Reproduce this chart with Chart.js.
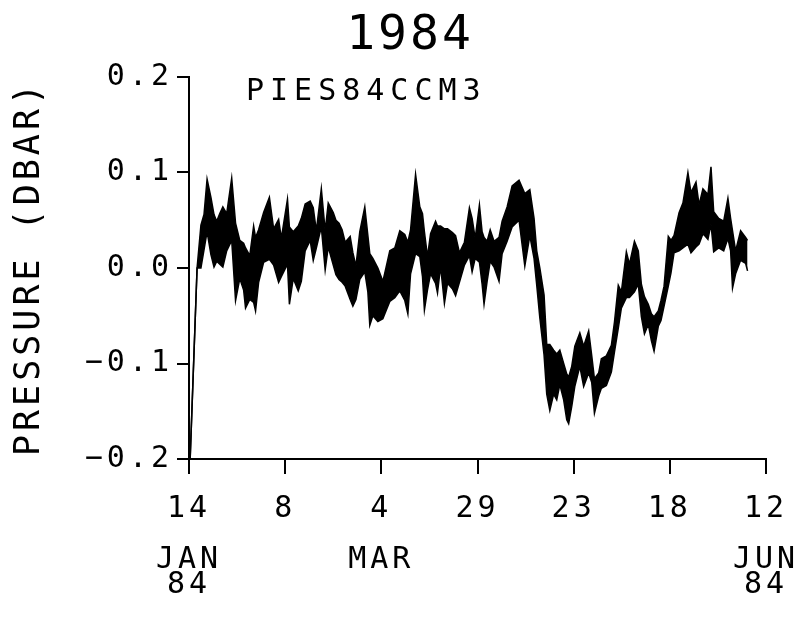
<!DOCTYPE html>
<html lang="en">
<head>
<meta charset="UTF-8">
<title>PIES84CCM3 - 1984</title>
<style>
  html, body { margin: 0; padding: 0; background: #fff; }
  #wrap { width: 801px; height: 626px; }
</style>
<script src="https://cdn.jsdelivr.net/npm/chart.js"></script>
</head>
<body>
<div id="wrap"><canvas id="pressureChart" width="801" height="626"></canvas></div>
<script>
// days after 14 Jan 1984, with the upper and lower edge of the pressure trace (dbar)
const days = [
  0.3, 2.1, 3.1, 3.9, 4.7, 5.7, 6.5, 7.2, 8.0, 8.8,
  9.8, 11.1, 12.1, 13.2, 14.2, 14.7, 15.8, 16.8, 17.3, 18.1,
  19.4, 20.9, 22.0, 23.3, 24.0, 25.6, 26.1, 27.1, 28.4, 29.2,
  30.2, 31.5, 32.3, 33.1, 34.4, 35.4, 36.2, 37.5, 38.2, 39.0,
  39.8, 40.6, 41.9, 42.6, 43.4, 44.4, 45.7, 46.5, 47.0, 47.8,
  49.1, 50.4, 51.2, 52.2, 53.5, 54.8, 56.1, 56.9, 57.6, 58.9,
  60.0, 60.7, 61.2, 62.0, 62.8, 64.1, 64.6, 65.4, 66.4, 67.2,
  68.5, 69.3, 70.3, 71.6, 72.9, 73.6, 74.4, 75.5, 76.2, 76.7,
  77.5, 78.3, 79.3, 80.6, 81.4, 82.7, 84.0, 85.8, 87.3, 88.6,
  89.7, 90.4, 91.2, 92.3, 93.0, 93.8, 94.8, 95.6, 96.4, 97.4,
  98.2, 98.7, 99.5, 100.3, 101.6, 102.6, 103.9, 104.7, 105.4, 106.5,
  107.2, 108.5, 109.8, 110.6, 111.6, 112.4, 113.7, 114.5, 115.8, 116.8,
  117.6, 118.4, 119.4, 120.2, 120.9, 122.0, 122.7, 123.5, 124.6, 125.3,
  126.1, 127.4, 128.4, 129.7, 130.5, 131.8, 132.6, 133.6, 134.9, 135.7,
  136.4, 137.7, 139.0, 140.1, 140.8, 141.3, 142.1, 143.4, 144.7, 145.2
];
const pressHigh = [
  -0.200, 0.000, 0.045, 0.056, 0.093, 0.074, 0.056, 0.049, 0.057, 0.064,
  0.057, 0.094, 0.047, 0.029, 0.026, 0.021, 0.013, 0.044, 0.032, 0.040,
  0.058, 0.074, 0.041, 0.051, 0.031, 0.072, 0.043, 0.038, 0.044, 0.052,
  0.067, 0.070, 0.063, 0.039, 0.083, 0.039, 0.068, 0.058, 0.050, 0.047,
  0.040, 0.027, 0.033, 0.016, 0.002, 0.038, 0.064, 0.034, 0.015, 0.010,
  0.000, -0.014, 0.000, 0.018, 0.021, 0.039, 0.035, 0.027, 0.040, 0.098,
  0.064, 0.057, 0.038, 0.012, 0.036, 0.049, 0.044, 0.044, 0.041, 0.041,
  0.037, 0.034, 0.016, 0.027, 0.063, 0.052, 0.031, 0.066, 0.038, 0.032,
  0.028, 0.040, 0.028, 0.032, 0.049, 0.064, 0.086, 0.092, 0.078, 0.082,
  0.052, 0.018, 0.000, -0.028, -0.080, -0.080, -0.086, -0.090, -0.086, -0.100,
  -0.111, -0.114, -0.103, -0.082, -0.068, -0.082, -0.066, -0.092, -0.116, -0.110,
  -0.095, -0.092, -0.081, -0.057, -0.018, -0.025, 0.017, 0.004, 0.028, 0.018,
  -0.017, -0.030, -0.038, -0.048, -0.051, -0.045, -0.034, -0.019, 0.033, 0.029,
  0.034, 0.058, 0.068, 0.100, 0.079, 0.090, 0.066, 0.083, 0.077, 0.106,
  0.059, 0.052, 0.049, 0.073, 0.052, 0.039, 0.018, 0.039, 0.032, 0.029
];
const pressLow = [
  -0.200, 0.000, 0.000, 0.019, 0.038, 0.014, 0.001, 0.007, 0.004, 0.001,
  0.018, 0.029, -0.034, -0.011, -0.023, -0.042, -0.033, -0.036, -0.045, -0.015,
  0.006, 0.009, 0.003, -0.015, -0.009, 0.004, -0.038, -0.011, -0.024, -0.014,
  0.018, 0.029, 0.008, 0.021, 0.043, -0.002, 0.022, 0.003, -0.007, -0.012,
  -0.015, -0.019, -0.033, -0.040, -0.033, -0.012, -0.004, -0.025, -0.060, -0.050,
  -0.056, -0.053, -0.045, -0.035, -0.031, -0.024, -0.034, -0.048, -0.006, 0.015,
  0.012, -0.009, -0.044, -0.023, -0.006, -0.016, -0.026, 0.002, -0.037, -0.016,
  -0.022, -0.029, -0.015, 0.003, 0.013, -0.004, 0.010, 0.006, -0.017, -0.038,
  -0.014, 0.007, 0.001, -0.014, 0.015, 0.028, 0.043, 0.050, 0.002, 0.034,
  0.010, -0.018, -0.052, -0.091, -0.132, -0.149, -0.132, -0.138, -0.122, -0.138,
  -0.159, -0.163, -0.145, -0.124, -0.103, -0.124, -0.110, -0.120, -0.152, -0.134,
  -0.126, -0.123, -0.109, -0.088, -0.063, -0.042, -0.031, -0.031, -0.025, -0.017,
  -0.051, -0.069, -0.059, -0.076, -0.087, -0.061, -0.055, -0.040, -0.019, -0.005,
  0.016, 0.018, 0.021, 0.025, 0.016, 0.022, 0.025, 0.036, 0.030, 0.046,
  0.017, 0.021, 0.018, 0.031, 0.018, -0.021, -0.006, 0.008, 0.005, -0.003
];

const tickDays = [0, 25, 50, 75, 100, 125, 150];
const dayLabels = ['14', '8', '4', '29', '23', '18', '12'];
const monthLabels = [['JAN', '84'], [], ['MAR'], [], [], [], ['JUN', '84']];

const titleText = '1984';
const stationName = 'PIES84CCM3';
const yTitle = 'PRESSURE (DBAR)';

const MONO = '"DejaVu Sans Mono", "Liberation Mono", monospace';

// plotter-like wide lettering for everything Chart.js draws
const wideLetters = {
    id: 'wideLetters',
    beforeUpdate(chart) { chart.ctx.letterSpacing = '4px'; },
    beforeDraw(chart) { chart.ctx.letterSpacing = '4px'; }
};

// title and station name
const extraText = {
    id: 'extraText',
    afterDraw(chart) {
        const ctx = chart.ctx;
        ctx.save();
        ctx.fillStyle = '#000';
        ctx.textBaseline = 'middle';
        ctx.letterSpacing = '3px';
        ctx.font = '48px ' + MONO;
        ctx.textAlign = 'center';
        ctx.fillText(titleText, 410, 37);
        ctx.letterSpacing = '6px';
        ctx.font = '30px ' + MONO;
        ctx.textAlign = 'left';
        ctx.fillText(stationName, 246, 92);
        ctx.restore();
    }
};

const highPts = days.map((d, i) => ({ x: d, y: pressHigh[i] }));
const lowPts = days.map((d, i) => ({ x: d, y: pressLow[i] }));

const ctx = document.getElementById('pressureChart').getContext('2d');
const chart = new Chart(ctx, {
    type: 'line',
    data: {
        datasets: [
            {
                label: 'upper',
                data: highPts,
                borderColor: '#000',
                backgroundColor: '#000',
                borderWidth: 1.5,
                pointRadius: 0,
                tension: 0,
                fill: '+1'
            },
            {
                label: 'lower',
                data: lowPts,
                borderColor: '#000',
                borderWidth: 1.5,
                pointRadius: 0,
                tension: 0,
                fill: false
            }
        ]
    },
    options: {
        responsive: false,
        animation: false,
        devicePixelRatio: 1,
        layout: { padding: { top: 77, right: 35, left: 0, bottom: 0 } },
        plugins: {
            legend: { display: false },
            tooltip: { enabled: false }
        },
        scales: {
            x: {
                type: 'linear',
                min: 0,
                max: 150,
                afterFit(scale) {
                    scale.height = 167;
                    scale.paddingLeft = 0;
                    scale.paddingRight = 0;
                },
                afterBuildTicks(scale) {
                    scale.ticks = tickDays.map(v => ({ value: v }));
                },
                ticks: {
                    color: '#000',
                    font: { family: MONO, size: 30, lineHeight: 0.85 },
                    padding: 22,
                    maxRotation: 0,
                    autoSkip: false,
                    callback(value) {
                        const i = tickDays.indexOf(value);
                        if (i < 0) return '';
                        if (monthLabels[i].length === 0) return dayLabels[i];
                        return [dayLabels[i], ''].concat(monthLabels[i]);
                    }
                },
                grid: {
                    drawOnChartArea: false,
                    drawTicks: true,
                    tickLength: 15,
                    color: '#000',
                    lineWidth: 2
                },
                border: { color: '#000', width: 2 }
            },
            y: {
                min: -0.2,
                max: 0.2,
                afterFit(scale) {
                    scale.width = 189;
                    scale.paddingTop = 0;
                    scale.paddingBottom = 0;
                },
                ticks: {
                    stepSize: 0.1,
                    color: '#000',
                    font: { family: MONO, size: 30 },
                    padding: 4,
                    callback(value) {
                        if (Math.abs(value) < 1e-9) return '0.0';
                        return value.toFixed(1).replace('-', '\u2212');
                    }
                },
                grid: {
                    drawOnChartArea: false,
                    drawTicks: true,
                    tickLength: 12,
                    color: '#000',
                    lineWidth: 2
                },
                border: { color: '#000', width: 2 },
                title: {
                    display: true,
                    text: yTitle,
                    color: '#000',
                    font: { family: MONO, size: 35 },
                    padding: { top: 9, bottom: 0 }
                }
            }
        }
    },
    plugins: [wideLetters, extraText]
});
</script>
</body>
</html>
